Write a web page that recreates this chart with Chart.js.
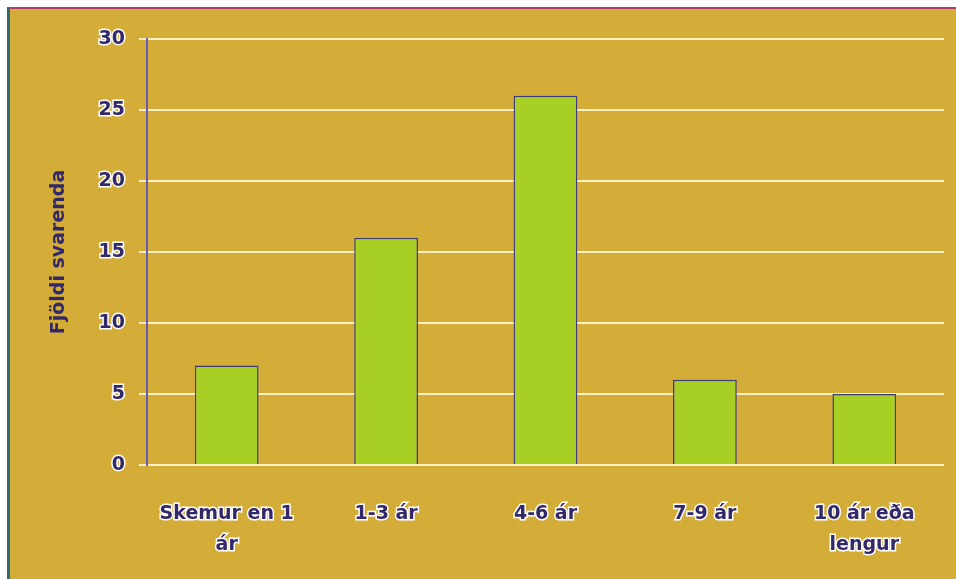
<!DOCTYPE html>
<html>
<head>
<meta charset="utf-8">
<script src="https://cdn.jsdelivr.net/npm/chart.js@4"></script>
<style>
  html, body { margin: 0; padding: 0; background: #ffffff; }
  #frame {
    position: absolute; left: 7px; top: 7px;
    width: 949px; height: 572px;
    background: #d4ad38;
    border-left: 3px solid #2f6a74;
    border-top: 2px solid #b23a6a;
    box-sizing: border-box;
  }
  canvas { display: block; }
</style>
</head>
<body>
<div id="frame"><canvas id="c"></canvas></div>
<script>
// Lengd (ár) og fjöldi svarenda
const categories = [['Skemur en 1', 'ár'], '1-3 ár', '4-6 ár', '7-9 ár', ['10 ár eða', 'lengur']];
const respondents = [7, 16, 26, 6, 5];
const yTicks = [0, 5, 10, 15, 20, 25, 30];

const textColor = '#33296a';
const font = { family: 'DejaVu Sans', weight: 'bold', size: 19 };

const ctx = document.getElementById('c').getContext('2d');

new Chart(ctx, {
  type: 'bar',
  data: {
    labels: categories,
    datasets: [{
      data: respondents,
      backgroundColor: '#a8d024',
      borderColor: '#3f3a7a',
      borderWidth: 1.5,
      barPercentage: 0.8,
      categoryPercentage: 0.5
    }]
  },
  options: {
    responsive: true,
    maintainAspectRatio: false,
    animation: false,
    layout: { padding: { top: 30, right: 12, left: 0, bottom: 0 } },
    plugins: { legend: { display: false }, tooltip: { enabled: false } },
    scales: {
      x: {
        grid: { display: false },
        border: { display: false },
        ticks: {
          color: textColor,
          font: { ...font, lineHeight: 1.6 },
          padding: 26,
          maxRotation: 0,
          autoSkip: false,
          textStrokeColor: '#ffffff',
          textStrokeWidth: 3
        },
        afterFit(scale) { scale.height = 114; }
      },
      y: {
        min: 0,
        max: 30,
        afterBuildTicks(scale) { scale.ticks = yTicks.map(v => ({ value: v })); },
        grid: { color: '#fbf0c4', lineWidth: 2, tickLength: 8 },
        border: { color: '#6a58b8', width: 2 },
        ticks: {
          color: textColor,
          font: font,
          padding: 14,
          textStrokeColor: '#ffffff',
          textStrokeWidth: 3
        },
        title: {
          display: true,
          text: 'Fjöldi svarenda',
          color: textColor,
          font: font,
          padding: { top: 38, bottom: 0 }
        },
        afterFit(scale) { scale.width = 137; }
      }
    }
  }
});
</script>
</body>
</html>
